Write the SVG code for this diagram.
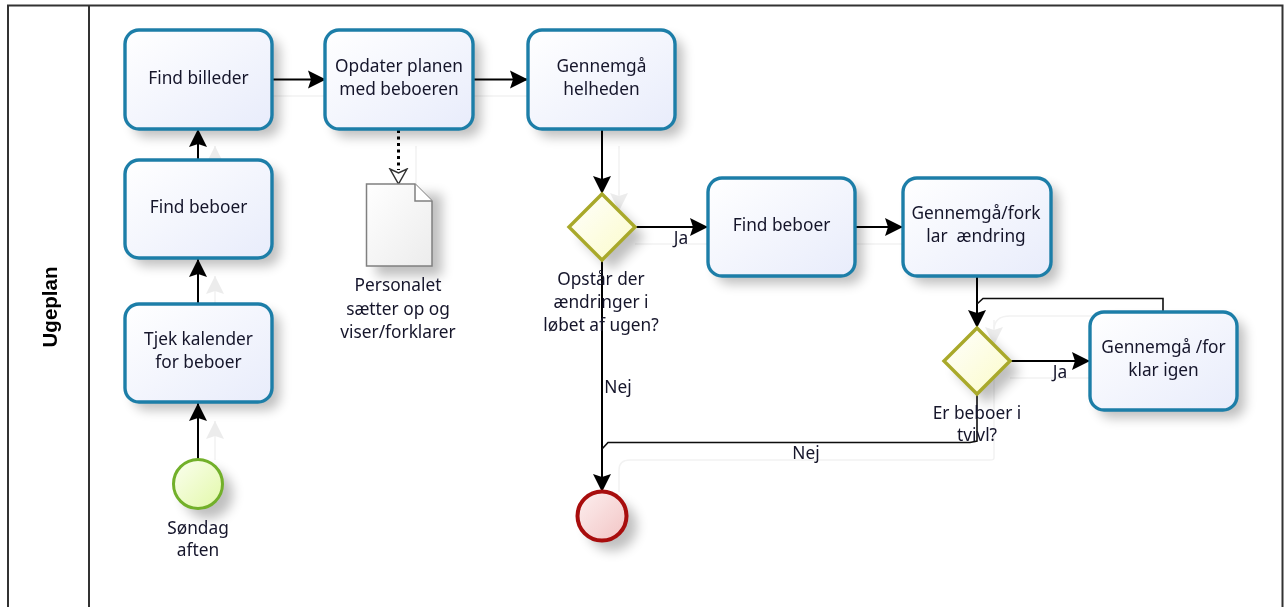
<svg xmlns="http://www.w3.org/2000/svg" width="1284" height="607" viewBox="0 0 1284 607">
<defs>
<linearGradient id="gT" x1="0" y1="0" x2="1" y2="1"><stop offset="0" stop-color="#ffffff"/><stop offset="1" stop-color="#e8ecfb"/></linearGradient>
<linearGradient id="gG" x1="0" y1="0" x2="1" y2="1"><stop offset="0" stop-color="#ffffff"/><stop offset="1" stop-color="#fbfbc8"/></linearGradient>
<linearGradient id="gS" x1="0" y1="0" x2="1" y2="1"><stop offset="0" stop-color="#fbfff0"/><stop offset="1" stop-color="#e2f8a8"/></linearGradient>
<linearGradient id="gE" x1="0" y1="0" x2="1" y2="1"><stop offset="0" stop-color="#fdf0f0"/><stop offset="1" stop-color="#f2c4c4"/></linearGradient>
<linearGradient id="gD" x1="0" y1="0" x2="1" y2="1"><stop offset="0" stop-color="#ffffff"/><stop offset="1" stop-color="#ececec"/></linearGradient>
<filter id="sh" x="-30%" y="-30%" width="170%" height="170%"><feGaussianBlur stdDeviation="6"/></filter>
<filter id="soft" x="0" y="0" width="1284" height="607" filterUnits="userSpaceOnUse"><feGaussianBlur stdDeviation="0.3"/></filter>
<marker id="arr" markerUnits="userSpaceOnUse" markerWidth="22" markerHeight="22" refX="18" refY="10" orient="auto"><path d="M0 1 L18 10 L0 19 L3 10 Z" fill="#000"/></marker>
<marker id="ghost" markerUnits="userSpaceOnUse" markerWidth="22" markerHeight="22" refX="18" refY="10" orient="auto"><path d="M0 1 L18 10 L0 19 L3 10 Z" fill="#ececec"/></marker>
<marker id="open" markerUnits="userSpaceOnUse" markerWidth="22" markerHeight="22" refX="16" refY="10" orient="auto"><path d="M1 1.500 L16 10 L1 18.500 L5 10 Z" fill="#fff" stroke="#333" stroke-width="1.500"/></marker>
</defs>
<style>
text{font-family:"Noto Sans","Open Sans","Liberation Sans",sans-serif;font-size:17.300px;fill:#14142a;text-anchor:middle;white-space:pre}
.shadow{fill:#000;opacity:.25}
.task{fill:url(#gT);stroke:#1f7ea8;stroke-width:3.400}
.gw{fill:url(#gG);stroke:#a9a92c;stroke-width:3.400}
.line{fill:none;stroke:#000;stroke-width:2}
.thin{fill:none;stroke:#111;stroke-width:1.600}
.ghostl{fill:none;stroke:#f2f2f2;stroke-width:1.500}
.frame{fill:none;stroke:#333;stroke-width:2}
</style>
<g filter="url(#soft)">
<g id="pool">
<path class="frame" d="M8 607V5.500H1282.500V607M89 5.500V607"/>
<text x="57" y="307" transform="rotate(-90 57 307)" style="font-weight:700;font-family:'Liberation Sans','Noto Sans',sans-serif;font-size:20.500px;fill:#000">Ugeplan</text>
</g>
<g id="connectors">
<g class="ghost-set">
<path class="ghostl" marker-end="url(#ghost)" d="M215 460V421"/>
<path class="ghostl" marker-end="url(#ghost)" d="M215 304V276"/>
<path class="ghostl" marker-end="url(#ghost)" d="M215 160V146"/>
<path class="ghostl" d="M272 96H325M473 96H528M416 146V184M619 146V200M635 244H708M855 244H903M994 320V458Q994 460 990 460H630Q619 460 619 470V492M1010 378H1090M994 330Q994 316 1010 316H1181"/>
<path class="ghostl" marker-end="url(#ghost)" d="M619 190V211"/>
<path class="ghostl" marker-end="url(#ghost)" d="M994 325V345"/>
</g>
<path class="line" marker-end="url(#arr)" d="M198 459V403"/>
<path class="line" marker-end="url(#arr)" d="M198 304V259"/>
<path class="line" marker-end="url(#arr)" d="M198 160V129"/>
<path class="line" marker-end="url(#arr)" d="M272 79.500H326"/>
<path class="line" marker-end="url(#arr)" d="M473 79.500H528"/>
<path d="M398.500 130V170" fill="none" stroke="#000" stroke-width="3" stroke-dasharray="3 3.500"/>
<path d="M398.500 170V184" fill="none" stroke="none" marker-end="url(#open)"/>
<path class="line" marker-end="url(#arr)" d="M602 129V194"/>
<path class="line" marker-end="url(#arr)" d="M635 227H708"/>
<path class="line" marker-end="url(#arr)" d="M855 227H903"/>
<path class="line" marker-end="url(#arr)" d="M977 276V328"/>
<path class="line" marker-end="url(#arr)" d="M1010 361H1090"/>
<path class="line" marker-end="url(#arr)" d="M602 260V492"/>
<path class="thin" d="M1163 312V298.500H983L977 304"/>
<path class="thin" d="M977 394V441L970 442.500H608L602 449"/>
</g>
<g id="start"><circle class="shadow" filter="url(#sh)" cx="208" cy="494" r="25"/><circle cx="198" cy="484" r="24.500" fill="url(#gS)" stroke="#72b02a" stroke-width="3"/><text x="198" y="534">Søndag</text><text x="198" y="556">aften</text></g>
<g id="task-tjek"><rect class="shadow" filter="url(#sh)" x="133" y="312" width="147" height="98" rx="14"/><rect class="task" x="125" y="304" width="147" height="98" rx="14"/><text x="198.500" y="345">Tjek kalender</text><text x="198.500" y="368">for beboer</text></g>
<g id="task-find-beboer"><rect class="shadow" filter="url(#sh)" x="133" y="168" width="147" height="98" rx="14"/><rect class="task" x="125" y="160" width="147" height="98" rx="14"/><text x="198.500" y="213">Find beboer</text></g>
<g id="task-find-billeder"><rect class="shadow" filter="url(#sh)" x="133" y="38" width="147" height="99" rx="14"/><rect class="task" x="125" y="30" width="147" height="99" rx="14"/><text x="198.500" y="84">Find billeder</text></g>
<g id="task-opdater"><rect class="shadow" filter="url(#sh)" x="333" y="38" width="148" height="99" rx="14"/><rect class="task" x="325" y="30" width="148" height="99" rx="14"/><text x="399" y="72">Opdater planen</text><text x="399" y="95">med beboeren</text></g>
<g id="task-gennemgaa"><rect class="shadow" filter="url(#sh)" x="536" y="38" width="147" height="99" rx="14"/><rect class="task" x="528" y="30" width="147" height="99" rx="14"/><text x="601.500" y="72">Gennemgå</text><text x="601.500" y="95">helheden</text></g>
<g id="document"><rect class="shadow" filter="url(#sh)" x="376" y="194" width="66" height="82" opacity=".2"/><path d="M366.500 184H415L432 201V266H366.500Z" fill="url(#gD)" stroke="#808080" stroke-width="1.500"/><path d="M415 184V201H432" fill="#fff" stroke="#808080" stroke-width="1.500"/><text x="398" y="291">Personalet</text><text x="398" y="315">sætter op og</text><text x="398" y="338">viser/forklarer</text></g>
<g id="gateway-aendringer"><path class="shadow" filter="url(#sh)" d="M612 204L645 237L612 270L579 237Z"/><path class="gw" d="M602 194L635 227L602 260L569 227Z"/><text x="601" y="285">Opstår der</text><text x="601" y="308">ændringer i</text><text x="601" y="331">løbet af ugen?</text></g>
<g id="task-find-beboer-2"><rect class="shadow" filter="url(#sh)" x="716" y="186" width="147" height="98" rx="14"/><rect class="task" x="708" y="178" width="147" height="98" rx="14"/><text x="781.500" y="231">Find beboer</text></g>
<g id="task-forklar"><rect class="shadow" filter="url(#sh)" x="911" y="186" width="148" height="98" rx="14"/><rect class="task" x="903" y="178" width="148" height="98" rx="14"/><text x="976" y="219">Gennemgå/fork</text><text x="976" y="242">lar  ændring</text></g>
<g id="gateway-tvivl"><path class="shadow" filter="url(#sh)" d="M987 338L1020 371L987 404L954 371Z"/><path class="gw" d="M977 328L1010 361L977 394L944 361Z"/><text x="977" y="419">Er beboer i</text><text x="977" y="441">tvivl?</text></g>
<g id="task-forklar-igen"><rect class="shadow" filter="url(#sh)" x="1098" y="320" width="147" height="98" rx="14"/><rect class="task" x="1090" y="312" width="147" height="98" rx="14"/><text x="1163.500" y="353">Gennemgå /for</text><text x="1163.500" y="376">klar igen</text></g>
<g id="end"><circle class="shadow" filter="url(#sh)" cx="612" cy="526" r="25"/><circle cx="602" cy="516" r="24.500" fill="url(#gE)" stroke="#a80c0c" stroke-width="4"/></g>
<g id="labels"><text x="681" y="244">Ja</text><text x="618" y="393">Nej</text><text x="1060" y="378">Ja</text><text x="806" y="459">Nej</text></g>
</g>
</svg>
